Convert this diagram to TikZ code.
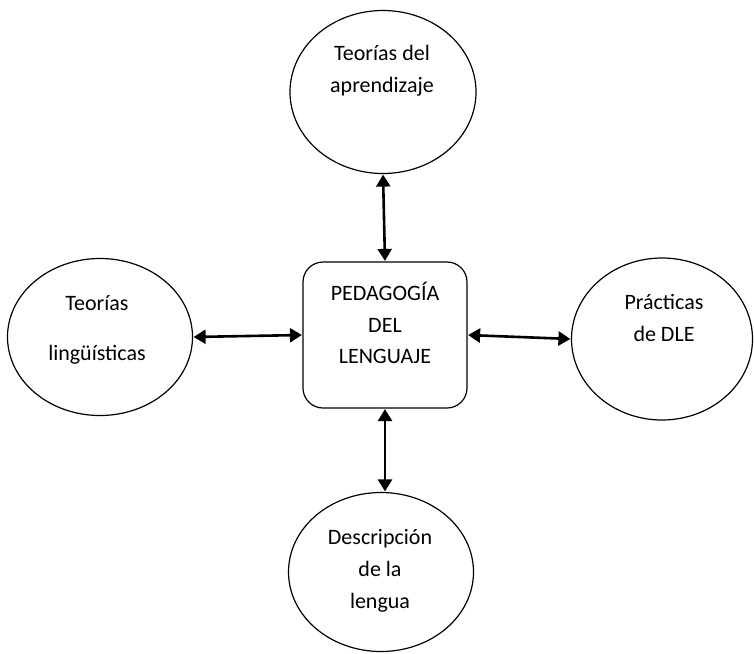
\documentclass[tikz,border=0pt]{standalone}
\usepackage{fontspec}
\setmainfont{Carlito}
\usetikzlibrary{shapes.geometric,arrows.meta}
\begin{document}
\begin{tikzpicture}[x=1pt,y=-1pt,
  oval/.style={draw=black,line width=1.2pt,ellipse,inner sep=0pt},
  txt/.style={align=center,font=\fontsize{22}{32}\selectfont,inner sep=0pt},
  rbox/.style={draw=black,line width=1.2pt,rounded corners=20pt,inner sep=0pt},
  arr/.style={line width=2.6pt,{Triangle[length=12pt,width=14pt]}-{Triangle[length=12pt,width=14pt]},shorten <=0.5pt,shorten >=0.5pt}]
\useasboundingbox (0,0) rectangle (754,653);
\node[oval,minimum width=186pt,minimum height=163pt] (top) at (383,92) {};
\node[oval,minimum width=185pt,minimum height=157pt] (left) at (100,337) {};
\node[oval,minimum width=181pt,minimum height=162pt] (right) at (662,339) {};
\node[oval,minimum width=185pt,minimum height=159pt] (bottom) at (381,572) {};
\node[rbox,minimum width=164pt,minimum height=146pt] (box) at (385,335) {};
\node[txt] (ttop) at (382,71) {Teorías del\\aprendizaje};
\node[txt] (tleft1) at (97,303) {Teorías};
\node[txt] (tleft2) at (97,355) {lingüísticas};
\node[txt] (tright) at (664,318) {Prácticas\\de DLE};
\node[txt] (tbottom) at (380,571) {Descripción\\de la\\lengua};
\node[txt,font=\fontsize{22}{31.5}\selectfont] (tbox) at (385,323) {PEDAGOGÍA\\DEL\\LENGUAJE};
\coordinate (bn) at (box.south |- bottom.north);
\draw[arr] (top.south) -- (box.north);
\draw[arr] (left.east) -- (box.west);
\draw[arr] (box.east) -- (right.west);
\draw[arr] (box.south) -- (bn);
\end{tikzpicture}
\end{document}
